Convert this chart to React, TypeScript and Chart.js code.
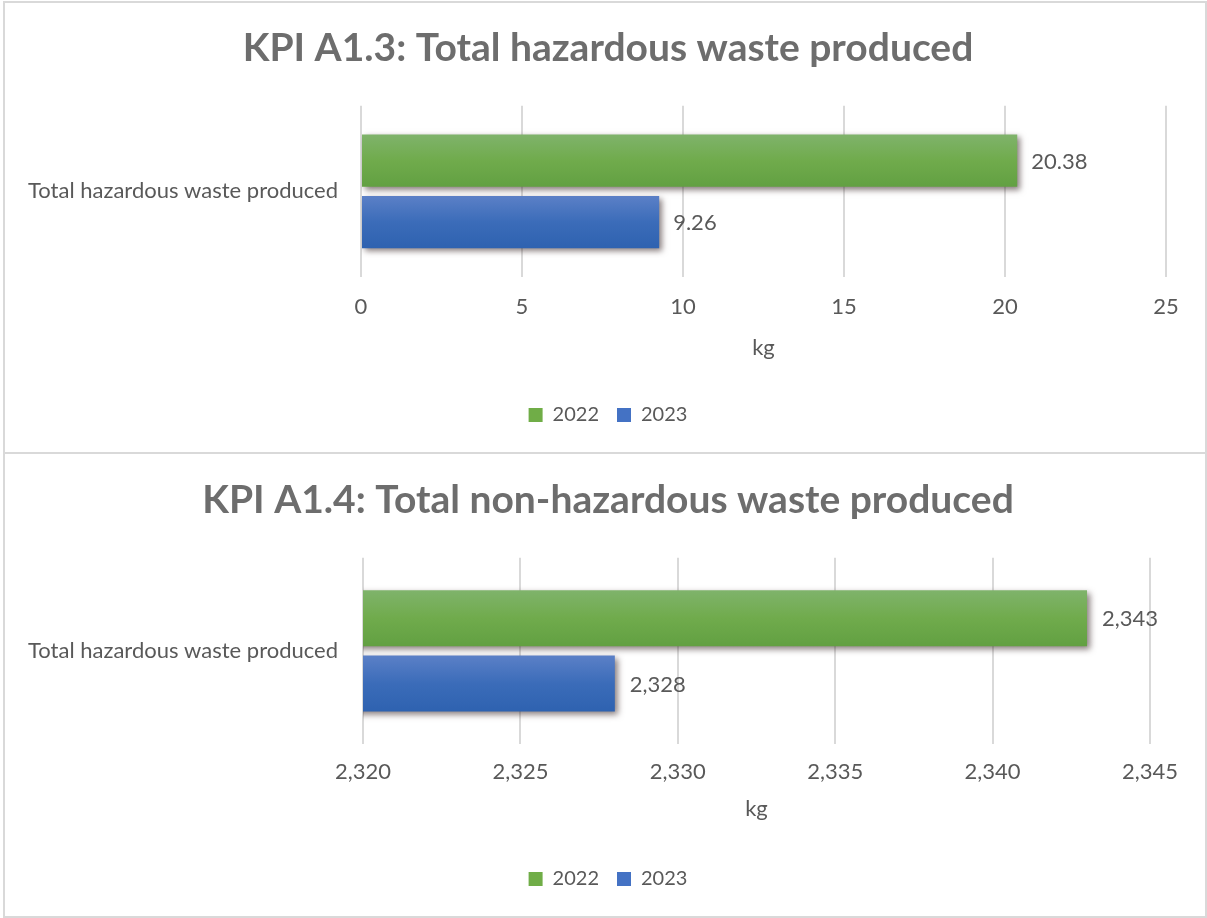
import React, { useEffect, useRef } from "react";
import { Chart, registerables } from "chart.js";
Chart.register(...registerables);

// ---- data ----
const categories = ["Total hazardous waste produced"];
const seriesNames = ["2022", "2023"];
const hazardous2022 = [20.38];
const hazardous2023 = [9.26];
const nonHazardous2022 = [2343];
const nonHazardous2023 = [2328];
const hazardousTicks = [0, 5, 10, 15, 20, 25];
const nonHazardousTicks = [2320, 2325, 2330, 2335, 2340, 2345];
const chartTitles = [
  "KPI A1.3: Total hazardous waste produced",
  "KPI A1.4: Total non-hazardous waste produced",
];
const axisTitle = "kg";

// ---- styles ----
const FONT = "Lato";
const TEXT = "#595959";
const TITLE_COLOR = "#6d6d6d";
const GRID = "#d9d9d9";
const greenStops = ["#7fb36b", "#70ab4c", "#62a042"];
const blueStops = ["#5b80c7", "#3b6cb9", "#2e62b0"];
const solids = ["#70ad47", "#4472c4"];

function gradientFill(stops: string[], solid: string, catPct: number, barPct: number) {
  return (ctx: any) => {
    const chart = ctx.chart;
    const y = chart.scales && chart.scales.y;
    if (!y || ctx.type !== "data" || !chart.chartArea) return solid;
    const n = chart.data.labels.length;
    const catW = (y.bottom - y.top) / n;
    const center = y.getPixelForValue(ctx.dataIndex);
    const nd = chart.data.datasets.length;
    const slot = (catW * catPct) / nd;
    const thick = slot * barPct;
    const c = center - (catW * catPct) / 2 + slot * (ctx.datasetIndex + 0.5);
    const g = chart.ctx.createLinearGradient(0, c - thick / 2, 0, c + thick / 2);
    stops.forEach((s, i) => g.addColorStop(i / (stops.length - 1), s));
    return g;
  };
}

type Cfg = {
  title: string;
  a: number[];
  b: number[];
  ticks: number[];
  fmt: (v: number) => string;
  width: number;
  height: number;
  titlePad: { top: number; bottom: number };
  padLeft: number;
  rightWidth: number;
  padBottom: number;
  yWidth: number;
  yPad: number;
  xHeight: number;
  tickPad: number;
  labelGap: number;
  axisTitlePad: { top: number; bottom: number };
  catPct: number;
  barPct: number;
};

function KpiChart(p: Cfg) {
  const ref = useRef<HTMLCanvasElement | null>(null);
  useEffect(() => {
    if (!ref.current) return;
    const labelsPlugin = {
      id: "valueLabels",
      beforeDatasetsDraw(chart: any) {
        const c = chart.ctx;
        c.save();
        c.shadowColor = "rgba(40,20,20,0.55)";
        c.shadowBlur = 6;
        c.shadowOffsetX = 3;
        c.shadowOffsetY = 3;
      },
      afterDatasetsDraw(chart: any) {
        const c = chart.ctx;
        c.restore();
        c.save();
        c.font = `22px ${FONT}`;
        c.fillStyle = TEXT;
        c.textAlign = "left";
        c.textBaseline = "middle";
        chart.data.datasets.forEach((ds: any, di: number) => {
          const meta = chart.getDatasetMeta(di);
          meta.data.forEach((el: any, i: number) => {
            c.fillText(p.fmt(ds.data[i]), el.x + p.labelGap, el.y + 1);
          });
        });
        c.restore();
      },
    };
    const font = { family: FONT, size: 22 };
    const chart = new Chart(ref.current, {
      type: "bar",
      data: {
        labels: categories,
        datasets: [
          {
            label: seriesNames[0],
            data: p.a,
            backgroundColor: gradientFill(greenStops, solids[0], p.catPct, p.barPct),
            borderWidth: 0,
            categoryPercentage: p.catPct,
            barPercentage: p.barPct,
          },
          {
            label: seriesNames[1],
            data: p.b,
            backgroundColor: gradientFill(blueStops, solids[1], p.catPct, p.barPct),
            borderWidth: 0,
            categoryPercentage: p.catPct,
            barPercentage: p.barPct,
          },
        ],
      },
      options: {
        indexAxis: "y",
        responsive: false,
        maintainAspectRatio: false,
        animation: false,
        devicePixelRatio: 1,
        layout: { padding: { left: p.padLeft, right: 0, top: 0, bottom: p.padBottom } },
        plugins: {
          title: {
            display: true,
            text: p.title,
            color: TITLE_COLOR,
            font: { family: FONT, size: 39, weight: "bold" },
            padding: p.titlePad,
          },
          legend: {
            position: "bottom",
            labels: {
              font: { family: FONT, size: 20 },
              color: TEXT,
              boxWidth: 14,
              boxHeight: 14,
              padding: 18,
              generateLabels: (chart: any) =>
                chart.data.datasets.map((ds: any, i: number) => ({
                  text: ds.label,
                  fillStyle: solids[i],
                  strokeStyle: solids[i],
                  lineWidth: 0,
                  hidden: false,
                  datasetIndex: i,
                  fontColor: TEXT,
                })),
            },
          },
          tooltip: { enabled: false },
        },
        scales: {
          x: {
            min: p.ticks[0],
            max: p.ticks[p.ticks.length - 1],
            afterBuildTicks: (s: any) => {
              s.ticks = p.ticks.map((v) => ({ value: v }));
            },
            ticks: {
              font,
              color: TEXT,
              padding: p.tickPad,
              maxRotation: 0,
              callback: (v: any) => p.fmt(Number(v)),
            },
            grid: { color: GRID, lineWidth: 2, drawTicks: false },
            border: { display: false },
            title: { display: true, text: axisTitle, font, color: TEXT, padding: p.axisTitlePad },
            afterFit: (s: any) => {
              s.height = p.xHeight;
            },
          },
          y: {
            grid: { display: false, drawTicks: false },
            border: { display: false },
            ticks: { font, color: TEXT, padding: p.yPad },
            afterFit: (s: any) => {
              s.width = p.yWidth;
            },
          },
          yRight: {
            type: "category",
            position: "right",
            grid: { display: false, drawTicks: false },
            border: { display: false },
            ticks: { display: false },
            afterFit: (s: any) => {
              s.width = p.rightWidth;
            },
          },
        },
      },
      plugins: [labelsPlugin],
    } as any);
    return () => chart.destroy();
  }, []);
  return <canvas ref={ref} width={p.width} height={p.height} style={{ display: "block" }} />;
}

const fmtDec = (v: number) => String(v);
const fmtInt = (v: number) => v.toLocaleString("en-US");

export default function App() {
  const box = (top: number, h: number): React.CSSProperties => ({
    position: "absolute",
    left: 3,
    top,
    width: 1200,
    height: h,
    border: `2px solid ${GRID}`,
    background: "#fff",
  });
  return (
    <div style={{ position: "absolute", left: 0, top: 0, width: 1207, height: 918, background: "#fff" }}>
      <div style={box(1, 449)}>
        <KpiChart
          title={chartTitles[0]}
          a={hazardous2022}
          b={hazardous2023}
          ticks={hazardousTicks}
          fmt={fmtDec}
          width={1200}
          height={449}
          titlePad={{ top: 22, bottom: 34 }}
          padLeft={6}
          rightWidth={39}
          padBottom={17}
          yWidth={350}
          yPad={23}
          xHeight={110}
          tickPad={17}
          labelGap={14}
          axisTitlePad={{ top: 4, bottom: 26 }}
          catPct={0.718}
          barPct={0.852}
        />
      </div>
      <div style={box(452, 462)}>
        <KpiChart
          title={chartTitles[1]}
          a={nonHazardous2022}
          b={nonHazardous2023}
          ticks={nonHazardousTicks}
          fmt={fmtInt}
          width={1200}
          height={462}
          titlePad={{ top: 23, bottom: 34 }}
          padLeft={6}
          rightWidth={55}
          padBottom={17}
          yWidth={352}
          yPad={25}
          xHeight={107}
          tickPad={15}
          labelGap={15}
          axisTitlePad={{ top: 4, bottom: 29 }}
          catPct={0.7}
          barPct={0.86}
        />
      </div>
    </div>
  );
}
